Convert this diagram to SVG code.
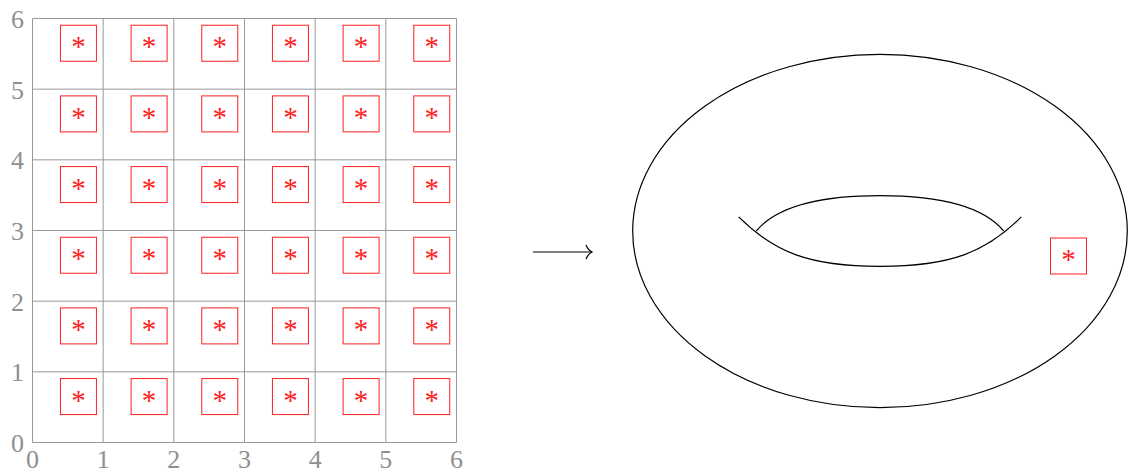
<svg xmlns="http://www.w3.org/2000/svg" width="1129" height="473" viewBox="0 0 1129 473">
<style>
.grid{stroke:#999;stroke-width:1;fill:none}
.lab{font-family:"Liberation Serif",serif;font-size:26px;fill:#8f8f8f}
.lx{text-anchor:middle}
.ly{text-anchor:end}
.ln{stroke:#000;stroke-width:1.2;fill:none}
</style>
<defs>
<g id="cell"><rect x="-18" y="-18" width="36" height="36" fill="none" stroke="#ff2020" stroke-width="1"/><text x="0" y="13" font-family="Liberation Serif, serif" font-size="29" fill="#ff2020" text-anchor="middle">*</text></g>
</defs>
<g id="grid" class="grid">
<path d="M32.5 18.5V442.5M103.17 18.5V442.5M173.83 18.5V442.5M244.5 18.5V442.5M315.17 18.5V442.5M385.83 18.5V442.5M456.5 18.5V442.5"/>
<path d="M32.5 442.5H456.5M32.5 371.83H456.5M32.5 301.17H456.5M32.5 230.5H456.5M32.5 159.83H456.5M32.5 89.17H456.5M32.5 18.5H456.5"/>
</g>
<g id="xlabels" class="lab lx">
<text x="32.5" y="468">0</text><text x="103.17" y="468">1</text><text x="173.83" y="468">2</text><text x="244.5" y="468">3</text><text x="315.17" y="468">4</text><text x="385.83" y="468">5</text><text x="456.5" y="468">6</text>
</g>
<g id="ylabels" class="lab ly">
<text x="24" y="452">0</text><text x="24" y="381.3">1</text><text x="24" y="310.7">2</text><text x="24" y="240">3</text><text x="24" y="169.3">4</text><text x="24" y="98.7">5</text><text x="24" y="28">6</text>
</g>
<g id="cells">
<g id="c0-5" transform="translate(78.43,43.23)"><use href="#cell"/></g>
<g id="c1-5" transform="translate(149.1,43.23)"><use href="#cell"/></g>
<g id="c2-5" transform="translate(219.77,43.23)"><use href="#cell"/></g>
<g id="c3-5" transform="translate(290.43,43.23)"><use href="#cell"/></g>
<g id="c4-5" transform="translate(361.1,43.23)"><use href="#cell"/></g>
<g id="c5-5" transform="translate(431.77,43.23)"><use href="#cell"/></g>
<g id="c0-4" transform="translate(78.43,113.9)"><use href="#cell"/></g>
<g id="c1-4" transform="translate(149.1,113.9)"><use href="#cell"/></g>
<g id="c2-4" transform="translate(219.77,113.9)"><use href="#cell"/></g>
<g id="c3-4" transform="translate(290.43,113.9)"><use href="#cell"/></g>
<g id="c4-4" transform="translate(361.1,113.9)"><use href="#cell"/></g>
<g id="c5-4" transform="translate(431.77,113.9)"><use href="#cell"/></g>
<g id="c0-3" transform="translate(78.43,184.57)"><use href="#cell"/></g>
<g id="c1-3" transform="translate(149.1,184.57)"><use href="#cell"/></g>
<g id="c2-3" transform="translate(219.77,184.57)"><use href="#cell"/></g>
<g id="c3-3" transform="translate(290.43,184.57)"><use href="#cell"/></g>
<g id="c4-3" transform="translate(361.1,184.57)"><use href="#cell"/></g>
<g id="c5-3" transform="translate(431.77,184.57)"><use href="#cell"/></g>
<g id="c0-2" transform="translate(78.43,255.23)"><use href="#cell"/></g>
<g id="c1-2" transform="translate(149.1,255.23)"><use href="#cell"/></g>
<g id="c2-2" transform="translate(219.77,255.23)"><use href="#cell"/></g>
<g id="c3-2" transform="translate(290.43,255.23)"><use href="#cell"/></g>
<g id="c4-2" transform="translate(361.1,255.23)"><use href="#cell"/></g>
<g id="c5-2" transform="translate(431.77,255.23)"><use href="#cell"/></g>
<g id="c0-1" transform="translate(78.43,325.9)"><use href="#cell"/></g>
<g id="c1-1" transform="translate(149.1,325.9)"><use href="#cell"/></g>
<g id="c2-1" transform="translate(219.77,325.9)"><use href="#cell"/></g>
<g id="c3-1" transform="translate(290.43,325.9)"><use href="#cell"/></g>
<g id="c4-1" transform="translate(361.1,325.9)"><use href="#cell"/></g>
<g id="c5-1" transform="translate(431.77,325.9)"><use href="#cell"/></g>
<g id="c0-0" transform="translate(78.43,396.57)"><use href="#cell"/></g>
<g id="c1-0" transform="translate(149.1,396.57)"><use href="#cell"/></g>
<g id="c2-0" transform="translate(219.77,396.57)"><use href="#cell"/></g>
<g id="c3-0" transform="translate(290.43,396.57)"><use href="#cell"/></g>
<g id="c4-0" transform="translate(361.1,396.57)"><use href="#cell"/></g>
<g id="c5-0" transform="translate(431.77,396.57)"><use href="#cell"/></g>
</g>
<g id="connectors" class="ln">
<path d="M533 252H591.5"/>
<path d="M586 245Q588 250 592 252Q588 254 586 259"/>
</g>
<g id="torus" class="ln">
<ellipse cx="880" cy="231" rx="247.3" ry="176.7"/>
<path d="M738.7 216.9C774 252.2 809.3 266.3 880 266.3C950.7 266.3 986 252.2 1021.3 216.9"/>
<path d="M756.3 231C774 209.8 809.3 195.7 880 195.7C950.7 195.7 986 209.8 1003.7 231"/>
</g>
<g id="point" transform="translate(1068.5,256)"><use href="#cell"/></g>
</svg>
